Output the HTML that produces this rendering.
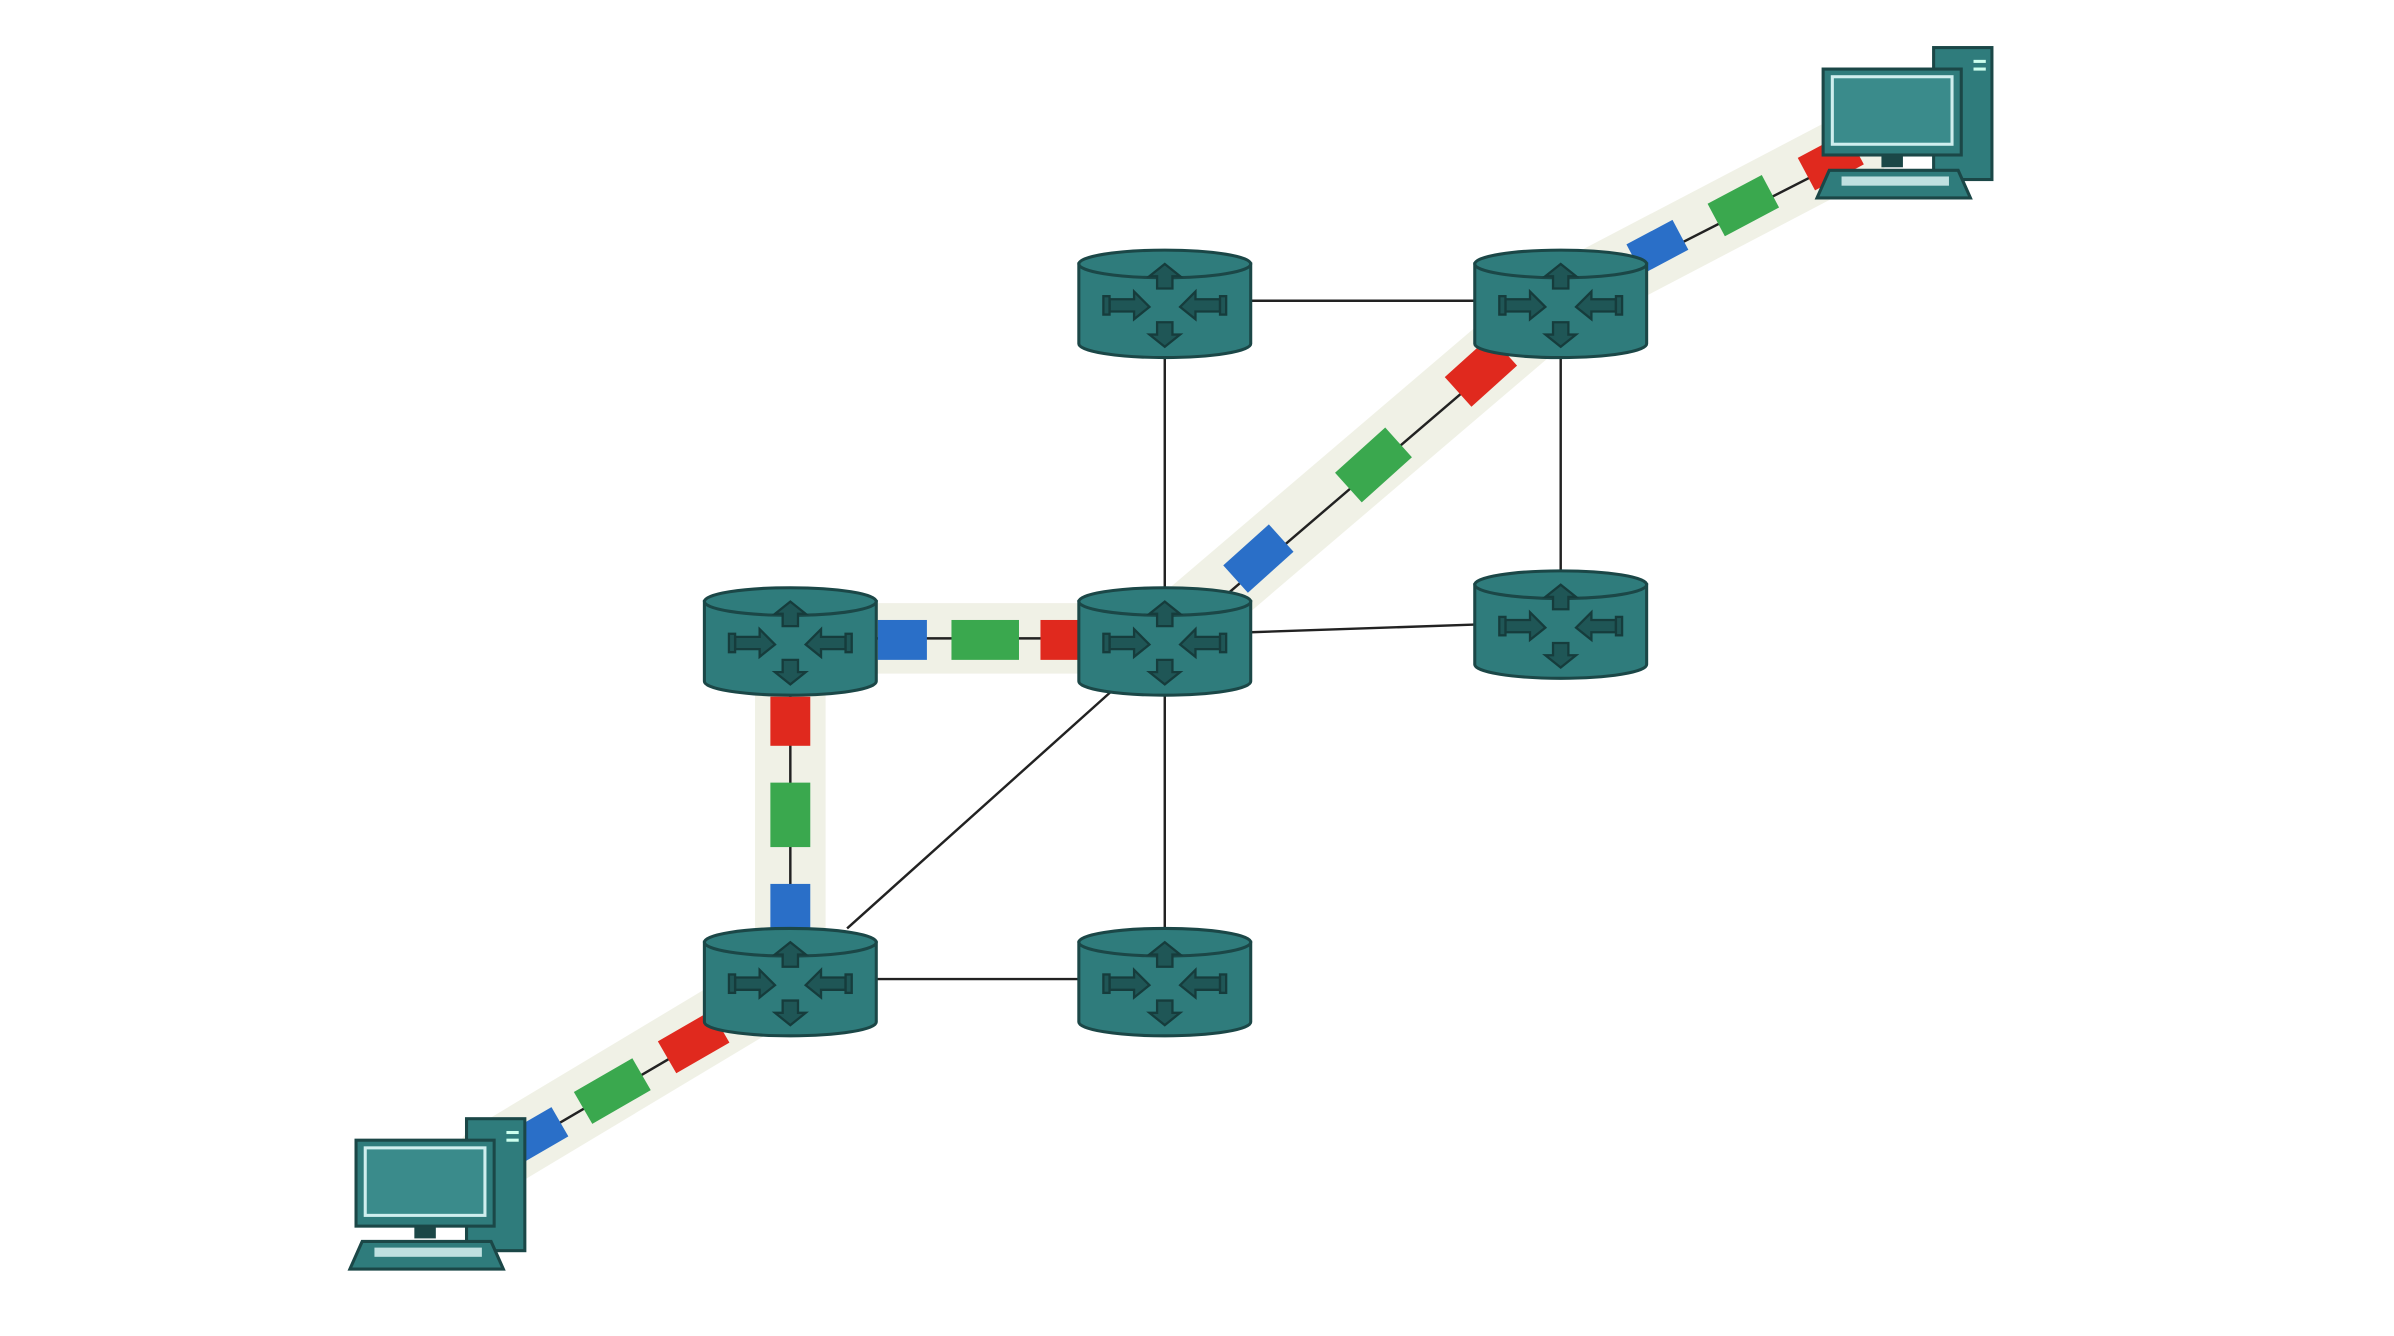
<!DOCTYPE html>
<html><head><style>html,body{margin:0;padding:0;background:#fff}svg{display:block}</style></head>
<body>
<svg width="2394" height="1336" viewBox="0 0 1560 870.6" preserveAspectRatio="none" xmlns="http://www.w3.org/2000/svg">
<defs>
<g id="rt">
  <path d="M-56,-26 L-56,26 A56,9 0 0 0 56,26 L56,-26 Z" fill="#2f7c7c" stroke="#1b4747" stroke-width="2"/>
  <ellipse cx="0" cy="-26" rx="56" ry="9" fill="#2f7c7c" stroke="#1b4747" stroke-width="2"/>
  <g fill="#1f5656" stroke="#163c3c" stroke-width="1.5">
    <path d="M-5,-10 L-5,-18 L-10,-18 L0,-26 L10,-18 L5,-18 L5,-10 Z"/>
    <path d="M-5,12 L-5,20 L-10,20 L0,28 L10,20 L5,20 L5,12 Z"/>
    <path d="M-36,-3 L-20,-3 L-20,-8 L-10,2 L-20,10 L-20,5 L-36,5 Z"/>
    <path d="M36,-3 L20,-3 L20,-8 L10,2 L20,10 L20,5 L36,5 Z"/>
    <rect x="-40" y="-5" width="4" height="12"/><rect x="36" y="-5" width="4" height="12"/>
  </g>
</g>
<g id="pc">
  <rect x="72" y="-14" width="38" height="86" fill="#2f7c7c" stroke="#1b4747" stroke-width="2"/>
  <rect x="98" y="-6" width="8" height="2" fill="#cfe"/><rect x="98" y="-1" width="8" height="2" fill="#cfe"/>
  <rect x="0" y="0" width="90" height="56" fill="#2f7c7c" stroke="#1b4747" stroke-width="2"/>
  <rect x="6" y="5" width="78" height="44" fill="#3a8b8b" stroke="#cfeeee" stroke-width="2"/>
  <rect x="38" y="56" width="14" height="8" fill="#1b4747"/>
  <path d="M4,66 L88,66 L96,84 L-4,84 Z" fill="#2f7c7c" stroke="#1b4747" stroke-width="2"/>
  <rect x="12" y="70" width="70" height="6" fill="#bfe0e0"/>
</g>
</defs>
<g stroke="#eef0e3" stroke-width="46" stroke-linecap="round" stroke-linejoin="round" fill="none" opacity="0.9">
  <polyline points="320,755 515,638 515,416 759,416 1017,196 1210,95"/>
</g>
<g stroke="#222" stroke-width="1.6" fill="none">
  <line x1="759" y1="196" x2="1017" y2="196"/>
  <line x1="759" y1="196" x2="759" y2="638"/>
  <line x1="1017" y1="196" x2="1017" y2="405"/>
  <line x1="815" y1="412" x2="961" y2="407"/>
  <line x1="515" y1="638" x2="759" y2="638"/>
  <line x1="552" y1="605" x2="727" y2="448"/>
  <line x1="515" y1="416" x2="759" y2="416"/>
  <line x1="515" y1="416" x2="515" y2="638"/>
  <line x1="787" y1="398" x2="997" y2="218"/>
  <line x1="1047" y1="183" x2="1220" y2="95"/>
  <line x1="477" y1="666" x2="330" y2="752"/>
</g>
<g stroke-width="1">
  <rect x="572" y="404" width="32" height="26" fill="#2a6fc8"/>
  <rect x="620" y="404" width="44" height="26" fill="#3aa84e"/>
  <rect x="678" y="404" width="26" height="26" fill="#e0291e"/>
  <rect x="502" y="454" width="26" height="32" fill="#e0291e"/>
  <rect x="502" y="510" width="26" height="42" fill="#3aa84e"/>
  <rect x="502" y="576" width="26" height="30" fill="#2a6fc8"/>
  <rect x="-20" y="-12" width="40" height="24" fill="#2a6fc8" transform="translate(820,364) rotate(-42)"/>
  <rect x="-22" y="-13" width="44" height="26" fill="#3aa84e" transform="translate(895,303) rotate(-42)"/>
  <rect x="-20" y="-13" width="40" height="26" fill="#e0291e" transform="translate(965,242) rotate(-42)"/>
  <rect x="-17" y="-11" width="34" height="22" fill="#2a6fc8" transform="translate(1080,161) rotate(-28)"/>
  <rect x="-20" y="-12" width="40" height="24" fill="#3aa84e" transform="translate(1136,134) rotate(-28)"/>
  <rect x="-18" y="-12" width="36" height="24" fill="#e0291e" transform="translate(1193,105) rotate(-28)"/>
  <rect x="-20" y="-12" width="40" height="24" fill="#e0291e" transform="translate(452,679) rotate(-30)"/>
  <rect x="-22" y="-12" width="44" height="24" fill="#3aa84e" transform="translate(399,711) rotate(-30)"/>
  <rect x="-16" y="-11" width="32" height="22" fill="#2a6fc8" transform="translate(351,739) rotate(-30)"/>
</g>
<use href="#rt" x="759" y="198"/>
<use href="#rt" x="1017" y="198"/>
<use href="#rt" x="515" y="418"/>
<use href="#rt" x="759" y="418"/>
<use href="#rt" x="1017" y="407"/>
<use href="#rt" x="515" y="640"/>
<use href="#rt" x="759" y="640"/>
<use href="#pc" x="1188" y="45"/>
<use href="#pc" x="232" y="743"/>
</svg>
</body></html>
